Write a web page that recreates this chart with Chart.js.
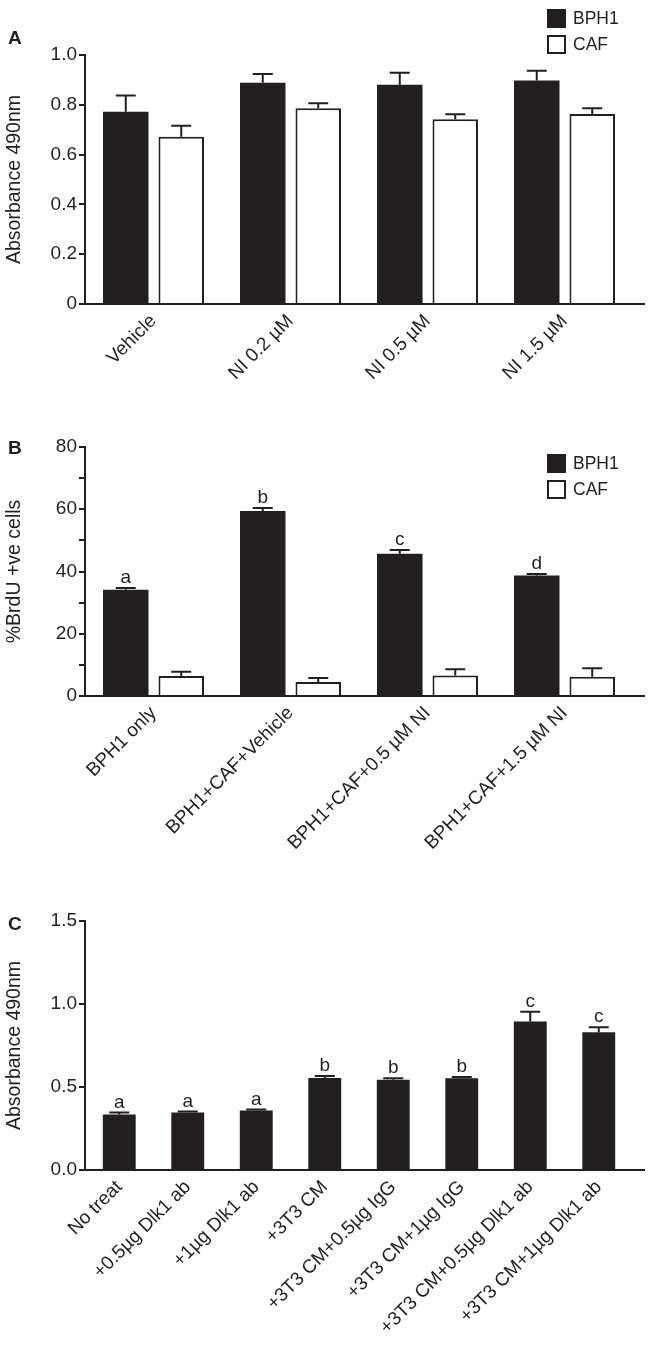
<!DOCTYPE html>
<html>
<head>
<meta charset="utf-8">
<script src="https://cdn.jsdelivr.net/npm/chart.js@4.4.1/dist/chart.umd.min.js"></script>
<style>
  body { margin: 0; background: #fff; }
  #wrap { position: relative; width: 649px; height: 1345px; overflow: hidden; }
  canvas { position: absolute; left: 0; }
  .panel { position: absolute; left: 8px; font: bold 19px "Liberation Sans", Arial, sans-serif; line-height: 19px; color: #231f20; }
</style>
</head>
<body>
<div id="wrap">
  <canvas id="chartA" width="649" height="400" style="top:0"></canvas>
  <canvas id="chartB" width="649" height="460" style="top:400px"></canvas>
  <canvas id="chartC" width="649" height="485" style="top:860px"></canvas>
  <div class="panel" style="top:28px">A</div>
  <div class="panel" style="top:438px">B</div>
  <div class="panel" style="top:914px">C</div>
</div>
<script>
// panel A
const labelsA = ['Vehicle', 'NI 0.2 µM', 'NI 0.5 µM', 'NI 1.5 µM'];
const bph1A = [0.772, 0.889, 0.881, 0.898];
const bph1ErrA = [0.065, 0.035, 0.048, 0.039];
const cafA = [0.672, 0.786, 0.742, 0.763];
const cafErrA = [0.044, 0.020, 0.020, 0.023];

// panel B
const labelsB = ['BPH1 only', 'BPH1+CAF+Vehicle', 'BPH1+CAF+0.5 µM NI', 'BPH1+CAF+1.5 µM NI'];
const bph1B = [34.1, 59.4, 45.7, 38.7];
const bph1ErrB = [0.6, 1.0, 1.2, 0.5];
const cafB = [6.4, 4.5, 6.6, 6.2];
const cafErrB = [1.4, 1.3, 2.0, 2.7];
const lettersB = ['a', 'b', 'c', 'd'];

// panel C
const labelsC = ['No treat', '+0.5µg Dlk1 ab', '+1µg Dlk1 ab', '+3T3 CM', '+3T3 CM+0.5µg IgG',
                 '+3T3 CM+1µg IgG', '+3T3 CM+0.5µg Dlk1 ab', '+3T3 CM+1µg Dlk1 ab'];
const valuesC = [0.334, 0.346, 0.358, 0.554, 0.544, 0.552, 0.894, 0.830];
const errC = [0.012, 0.006, 0.006, 0.012, 0.008, 0.008, 0.060, 0.030];
const lettersC = ['a', 'a', 'a', 'b', 'b', 'b', 'c', 'c'];

const INK = '#231f20';
const FONT = '"Liberation Sans", Arial, sans-serif';
Chart.defaults.font.family = FONT;
Chart.defaults.color = INK;

// error bars (upper only), letters, extended x axis line and the little legend
const extras = {
  id: 'extras',
  afterDatasetsDraw(chart) {
    const ctx = chart.ctx;
    const y = chart.scales.y;
    ctx.save();
    ctx.strokeStyle = INK;
    ctx.lineWidth = 2;
    ctx.fillStyle = INK;
    ctx.font = '19px ' + FONT;
    ctx.textAlign = 'center';
    ctx.textBaseline = 'alphabetic';
    chart.data.datasets.forEach((ds, i) => {
      const meta = chart.getDatasetMeta(i);
      meta.data.forEach((bar, j) => {
        const err = ds.errors ? ds.errors[j] : 0;
        const top = y.getPixelForValue(ds.data[j] + err);
        ctx.beginPath();
        ctx.moveTo(bar.x, bar.y);
        ctx.lineTo(bar.x, top);
        ctx.moveTo(bar.x - 10, top);
        ctx.lineTo(bar.x + 10, top);
        ctx.stroke();
        if (ds.letters) ctx.fillText(ds.letters[j], bar.x, top - 5);
      });
    });
    ctx.restore();
  },
  afterDraw(chart, args, opts) {
    const ctx = chart.ctx;
    const a = chart.chartArea;
    ctx.save();
    ctx.strokeStyle = INK;
    ctx.lineWidth = 2;
    ctx.beginPath();
    ctx.moveTo(a.left - 1, a.bottom);
    ctx.lineTo(645, a.bottom);
    ctx.stroke();
    if (opts.legendTop !== undefined) {
      ctx.font = '17.5px ' + FONT;
      ctx.textBaseline = 'middle';
      ctx.textAlign = 'left';
      chart.data.datasets.forEach((ds, i) => {
        const top = opts.legendTop + i * 26;
        ctx.fillStyle = ds.backgroundColor;
        ctx.fillRect(548, top, 17, 17);
        ctx.lineWidth = 2;
        ctx.strokeRect(548, top, 17, 17);
        ctx.fillStyle = INK;
        ctx.fillText(ds.label, 573, top + 9);
      });
    }
    ctx.restore();
  }
};

function yScale(min, max, step, fmt, title) {
  return {
    min: min, max: max,
    ticks: { stepSize: step, color: INK, font: { size: 19 }, padding: 2, callback: fmt },
    grid: { drawOnChartArea: false, drawTicks: true, tickLength: 6, color: INK, lineWidth: 2 },
    border: { display: true, color: INK, width: 2 },
    title: { display: true, text: title, color: INK, font: { size: 19.5 }, padding: { top: 3, bottom: 0 } },
    afterFit: s => { s.width = 85; }
  };
}

function xScale(h) {
  return {
    grid: { display: false, drawTicks: false },
    border: { display: false },
    ticks: { color: INK, font: { size: 19 }, minRotation: 45, maxRotation: 45, autoSkip: false, padding: 6 },
    afterFit: s => { s.height = h; }
  };
}

function makeChart(id, labels, datasets, y, xH, padTop, legendTop, catPct, barPct) {
  return new Chart(document.getElementById(id), {
    type: 'bar',
    data: { labels: labels, datasets: datasets },
    options: {
      responsive: false,
      animation: false,
      categoryPercentage: catPct,
      barPercentage: barPct,
      layout: { padding: { top: padTop, right: 16, bottom: 0, left: 0 } },
      scales: { x: xScale(xH), y: y },
      plugins: {
        legend: { display: false },
        tooltip: { enabled: false },
        extras: { legendTop: legendTop }
      }
    },
    plugins: [extras]
  });
}

const blackBar = { backgroundColor: INK, borderColor: INK, borderWidth: 0 };
const whiteBar = { backgroundColor: '#ffffff', borderColor: INK, borderWidth: 2 };

makeChart('chartA', labelsA, [
  Object.assign({ label: 'BPH1', data: bph1A, errors: bph1ErrA }, blackBar),
  Object.assign({ label: 'CAF', data: cafA, errors: cafErrA }, whiteBar)
], yScale(0, 1.0, 0.2, v => v === 0 ? '0' : v.toFixed(1), 'Absorbance 490nm'), 96, 55, 10, 0.81, 0.82);

makeChart('chartB', labelsB, [
  Object.assign({ label: 'BPH1', data: bph1B, errors: bph1ErrB, letters: lettersB }, blackBar),
  Object.assign({ label: 'CAF', data: cafB, errors: cafErrB }, whiteBar)
], yScale(0, 80, 10, v => v % 20 === 0 ? String(v) : '', '%BrdU +ve cells'), 164, 47, 55, 0.81, 0.82);

makeChart('chartC', labelsC, [
  Object.assign({ label: 'C', data: valuesC, errors: errC, letters: lettersC }, blackBar)
], yScale(0, 1.5, 0.5, v => v.toFixed(1), 'Absorbance 490nm'), 175, 61, undefined, 0.6, 0.8);
</script>
</body>
</html>
